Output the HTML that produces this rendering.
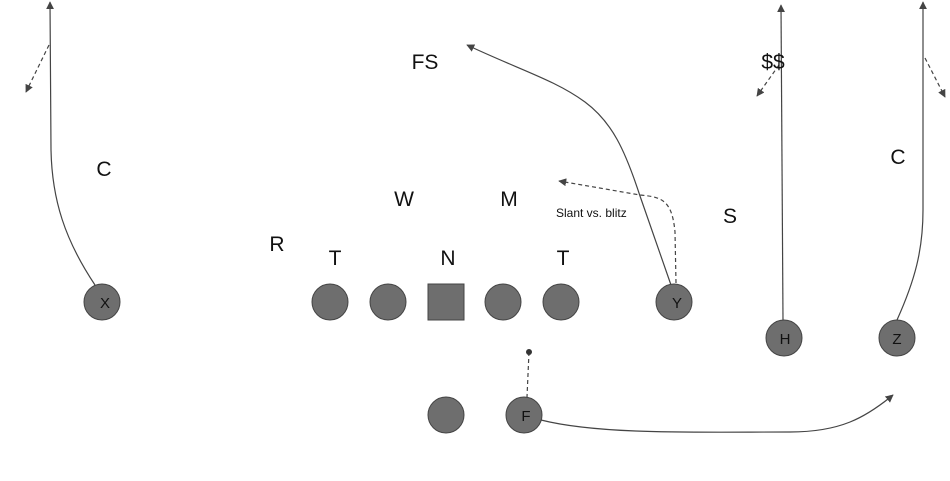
<!DOCTYPE html>
<html><head><style>
html,body{margin:0;padding:0;background:#fff;}
svg{display:block;}
text{font-family:"Liberation Sans",sans-serif;fill:#111;}
</style></head><body>
<svg width="950" height="481" viewBox="0 0 950 481" xmlns="http://www.w3.org/2000/svg">
<defs>
<marker id="a" viewBox="0 0 10 10" refX="9" refY="5" markerWidth="8" markerHeight="8" orient="auto" markerUnits="userSpaceOnUse"><path d="M0,0 L10,5 L0,10 z" fill="#444"/></marker>
</defs>
<g fill="none" stroke="#444" stroke-width="1.2">
<path d="M95,285 C65,240 52,200 51,150 L50,2" marker-end="url(#a)"/>
<path d="M49,45 L26,92" stroke-dasharray="4,3" marker-end="url(#a)"/>
<path d="M783,320 L781,5" marker-end="url(#a)"/>
<path d="M779,65 L757,96" stroke-dasharray="4,3" marker-end="url(#a)"/>
<path d="M897,320 C915,280 923,250 923,210 L923,2" marker-end="url(#a)"/>
<path d="M925,58 L945,97" stroke-dasharray="4,3" marker-end="url(#a)"/>
<path d="M671,285 L640,196 C625,150 612,122 585,102 C555,80 520,70 467,45" marker-end="url(#a)"/>
<path d="M676,283 L675,232 C672,200 662,197 640,195 L559,181" stroke-dasharray="4,3" marker-end="url(#a)"/>
<path d="M541,420 C600,435 700,432 790,432 C840,432 865,418 893,395" marker-end="url(#a)"/>
<path d="M529,352 L527,397" stroke-dasharray="4,3"/>
</g>
<circle cx="529" cy="352" r="3" fill="#333"/>
<g fill="#6e6e6e" stroke="#444" stroke-width="1">
<circle cx="102" cy="302" r="18"/>
<circle cx="330" cy="302" r="18"/>
<circle cx="388" cy="302" r="18"/>
<rect x="428" y="284" width="36" height="36"/>
<circle cx="503" cy="302" r="18"/>
<circle cx="561" cy="302" r="18"/>
<circle cx="674" cy="302" r="18"/>
<circle cx="784" cy="338" r="18"/>
<circle cx="897" cy="338" r="18"/>
<circle cx="446" cy="415" r="18"/>
<circle cx="524" cy="415" r="18"/>
</g>
<g font-size="15" text-anchor="middle">
<text x="105" y="308">X</text>
<text x="677" y="308">Y</text>
<text x="785" y="344">H</text>
<text x="897" y="344">Z</text>
<text x="526" y="421">F</text>
</g>
<g font-size="21" text-anchor="middle">
<text x="425" y="69">FS</text>
<text x="773" y="69">$$</text>
<text x="104" y="176">C</text>
<text x="898" y="164">C</text>
<text x="404" y="206">W</text>
<text x="509" y="206">M</text>
<text x="730" y="223">S</text>
<text x="277" y="251">R</text>
<text x="335" y="265">T</text>
<text x="448" y="265">N</text>
<text x="563" y="265">T</text>
</g>
<text x="556" y="217" font-size="12" fill="#333">Slant vs. blitz</text>
</svg>
</body></html>
